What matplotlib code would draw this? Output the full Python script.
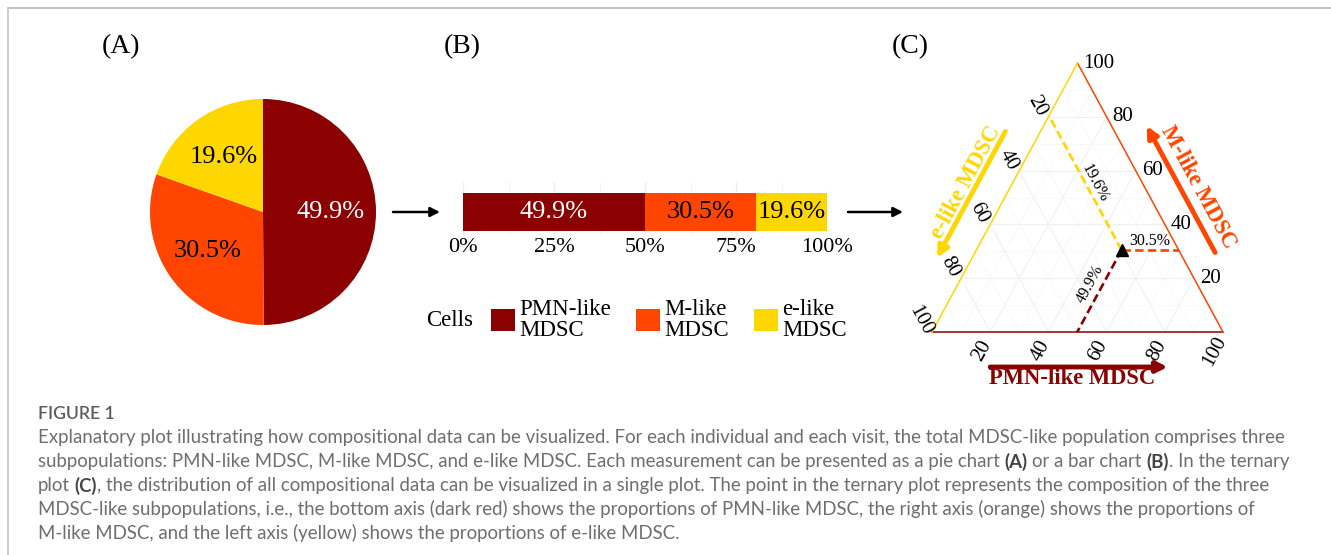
import numpy as np
import matplotlib
matplotlib.use("Agg")
import matplotlib.pyplot as plt
from matplotlib.transforms import offset_copy

# Composition of the MDSC-like population (percent)
cell_labels = ["PMN-like\nMDSC", "M-like\nMDSC", "e-like\nMDSC"]
axis_titles = ["PMN-like MDSC", "M-like MDSC", "e-like MDSC"]
shares = [49.9, 30.5, 19.6]
colors = ["#8B0000", "#FF4500", "#FFD700"]
text_colors = ["white", "black", "black"]
bar_ticks = [0, 25, 50, 75, 100]
tern_ticks = [20, 40, 60, 80, 100]

caption_title = "FIGURE 1"
caption_lines = [
    "Explanatory plot illustrating how compositional data can be visualized. For each individual and each visit, the total MDSC-like population comprises three",
    "subpopulations: PMN-like MDSC, M-like MDSC, and e-like MDSC. Each measurement can be presented as a pie chart **(A)** or a bar chart **(B)**. In the ternary",
    "plot **(C)**, the distribution of all compositional data can be visualized in a single plot. The point in the ternary plot represents the composition of the three",
    "MDSC-like subpopulations, i.e., the bottom axis (dark red) shows the proportions of PMN-like MDSC, the right axis (orange) shows the proportions of",
    "M-like MDSC, and the left axis (yellow) shows the proportions of e-like MDSC.",
]

W, H = 1331, 555
plt.rcParams["font.family"] = ["Liberation Serif", "DejaVu Serif"]
fig = plt.figure(figsize=(W / 100, H / 100), dpi=100)


def box(x0, y0, x1, y1):
    # pixel box measured from the top-left corner -> figure fraction rect
    return [x0 / W, 1 - y1 / H, (x1 - x0) / W, (y1 - y0) / H]


# background layer in pixel units for frame, panel letters and caption
bg = fig.add_axes([0, 0, 1, 1], zorder=-1)
bg.set_xlim(0, W)
bg.set_ylim(H, 0)
bg.axis("off")
bg.plot([8, W], [8, 8], color="#b7b7c4", lw=1.2)
bg.plot([8, 8], [8, H], color="#c4c4cc", lw=1.2)

for lab, x in zip(["(A)", "(B)", "(C)"], [121, 462, 910]):
    bg.text(x, 47, lab, fontsize=20, ha="center", va="center")

arrow_kw = dict(arrowstyle="-|>", color="black", lw=1.8, mutation_scale=14,
                shrinkA=0, shrinkB=0)
bg.annotate("", xy=(440, 212), xytext=(393, 212), arrowprops=arrow_kw)
bg.annotate("", xy=(903, 212), xytext=(848, 212), arrowprops=arrow_kw)

# ---- (A) pie chart
ax_pie = fig.add_axes(box(150, 99, 376, 325))
wedges, _, pcts = ax_pie.pie(shares, colors=colors, startangle=90, counterclock=False,
                             autopct="%.1f%%", pctdistance=0.6, radius=1,
                             wedgeprops=dict(linewidth=0), textprops=dict(fontsize=19))
for t, c in zip(pcts, text_colors):
    t.set_color(c)
ax_pie.set_xlim(-1, 1)
ax_pie.set_ylim(-1, 1)
ax_pie.set_aspect("equal")

# ---- (B) stacked bar
ax_bar = fig.add_axes(box(463, 182, 827, 236))
lefts = np.concatenate([[0], np.cumsum(shares)[:-1]])
containers = []
for share, left, c, tc in zip(shares, lefts, colors, text_colors):
    bars = ax_bar.barh(0, share, left=left, height=0.7, color=c, linewidth=0)
    ax_bar.bar_label(bars, labels=[f"{share:.1f}%"], label_type="center",
                     color=tc, fontsize=19)
    containers.append(bars)
ax_bar.set_xlim(0, 100)
ax_bar.set_ylim(-0.442, 0.553)
ax_bar.set_xticks(bar_ticks)
ax_bar.set_xticklabels([f"{t}%" for t in bar_ticks])
ax_bar.set_xticks(np.arange(12.5, 100, 25), minor=True)
ax_bar.set_yticks([])
ax_bar.grid(axis="x", which="major", color="#ececec", lw=0.9)
ax_bar.grid(axis="x", which="minor", color="#f3f3f3", lw=0.7)
ax_bar.set_axisbelow(True)
ax_bar.tick_params(axis="x", which="both", length=0, pad=1.5, labelsize=16)
for s in ax_bar.spines.values():
    s.set_visible(False)

leg = fig.legend(containers, cell_labels, loc="center left",
                 bbox_to_anchor=(491 / W, 1 - 320 / H), ncol=3, frameon=False,
                 fontsize=16.5, handlelength=1.05, handleheight=1.13,
                 handletextpad=0.18, columnspacing=1.1, borderpad=0, borderaxespad=0)
for t in leg.get_texts():
    t.set_linespacing(0.95)
bg.text(450, 320, "Cells", fontsize=16.5, ha="center", va="center")

# ---- (C) ternary plot: x = PMN + M/2, y = M
ax_t = fig.add_axes(box(932, 63, 1223, 332))
ax_t.set_xlim(0, 100)
ax_t.set_ylim(0, 100)
ax_t.axis("off")


def tern(pmn, m, e):
    return pmn + m / 2, m


bbox_px = ax_t.get_window_extent()
edge_ang = np.degrees(np.arctan2(bbox_px.height, bbox_px.width / 2))

for v in range(10, 100, 10):
    gc, glw = ("#f0f0f0", 0.8) if v % 20 == 0 else ("#f7f7f7", 0.6)
    for a, b in [((v, 0, 100 - v), (v, 100 - v, 0)),
                 ((0, v, 100 - v), (100 - v, v, 0)),
                 ((100 - v, 0, v), (0, 100 - v, v))]:
        p, q = tern(*a), tern(*b)
        ax_t.plot([p[0], q[0]], [p[1], q[1]], color=gc, lw=glw, zorder=1)

corners = {"e": tern(0, 0, 100), "pmn": tern(100, 0, 0), "m": tern(0, 100, 0)}
for (a, b), c in zip([("e", "pmn"), ("pmn", "m"), ("m", "e")], colors):
    ax_t.plot([corners[a][0], corners[b][0]], [corners[a][1], corners[b][1]],
              color=c, lw=1.1, zorder=2, clip_on=False)

pmn, m, e = shares
pt = tern(pmn, m, e)
guide_ends = [tern(pmn, 0, 100 - pmn), tern(100 - m, m, 0), tern(0, 100 - e, e)]
label_shift = [(-9, 7), (0, 9), (10, 0)]
label_rot = [edge_ang, 0, -edge_ang]
for end, c, val, sh, rot in zip(guide_ends, colors, shares, label_shift, label_rot):
    ax_t.plot([pt[0], end[0]], [pt[1], end[1]], color=c, lw=1.9,
              dashes=(3.2, 1.6), zorder=3, clip_on=False)
    mid = ((pt[0] + end[0]) / 2, (pt[1] + end[1]) / 2)
    ax_t.annotate(f"{val:.1f}%", xy=mid, xytext=sh, textcoords="offset pixels",
                  rotation=rot, ha="center", va="center", fontsize=11.5)
ax_t.plot(pt[0], pt[1], marker="^", color="black", ms=9, zorder=4, clip_on=False)

for t in tern_ticks:
    ax_t.annotate(str(t), xy=tern(100 - t, t, 0), xytext=(6, 0),
                  textcoords="offset pixels", ha="left", va="center", fontsize=15)
    ax_t.annotate(str(t), xy=tern(0, 100 - t, t), xytext=(-11, 11),
                  textcoords="offset pixels", ha="center", va="center",
                  rotation=-edge_ang, fontsize=15)
    ax_t.annotate(str(t), xy=tern(t, 0, 100 - t), xytext=(-8, -19),
                  textcoords="offset pixels", ha="center", va="center",
                  rotation=edge_ang, fontsize=15)


def shifted(dx, dy):
    return offset_copy(ax_t.transData, fig=fig, x=dx, y=dy, units="dots")


def axis_arrow(p0, p1, c, dx, dy):
    ax_t.annotate("", xy=p1, xytext=p0, xycoords=shifted(dx, dy),
                  textcoords=shifted(dx, dy),
                  arrowprops=dict(arrowstyle="-|>", color=c, lw=3.5,
                                  mutation_scale=16, shrinkA=0, shrinkB=0))


# PMN along the bottom, M up the right edge, e down the left edge
axis_arrow(tern(20, 0, 80), tern(81, 0, 19), colors[0], 0, -35)
axis_arrow(tern(76, 24, 0), tern(29, 71, 0), colors[1], 27, 15)
axis_arrow(tern(0, 69, 31), tern(0, 22, 78), colors[2], -27, 15)

ax_t.text(*tern(48, 0, 52), axis_titles[0], transform=shifted(0, -47), color=colors[0],
          fontsize=16.3, fontweight="bold", ha="center", va="center")
ax_t.text(*tern(54.5, 45.5, 0), axis_titles[1], transform=shifted(41, 22), color=colors[1],
          fontsize=16.3, fontweight="bold", ha="center", va="center", rotation=-edge_ang)
ax_t.text(*tern(0, 48.2, 51.8), axis_titles[2], transform=shifted(-36, 19.5), color=colors[2],
          fontsize=16.3, fontweight="bold", ha="center", va="center", rotation=edge_ang)

# ---- caption, fitted to the page width
renderer = fig.canvas.get_renderer()
cap_font = "Lato"
cap_color = "#6e6e6e"
probe = bg.text(0, 0, caption_lines[0], fontsize=12, family=cap_font)
cap_size = 12 * 1241 / probe.get_window_extent(renderer).width
probe.remove()


def text_width(s, bold):
    t = bg.text(0, 0, s, fontsize=cap_size, family=cap_font,
                fontweight="bold" if bold else "normal")
    w = t.get_window_extent(renderer).width
    t.remove()
    return w


space_w = text_width("x x", False) - text_width("xx", False)

bg.text(38, 414, caption_title, fontsize=cap_size * 0.95, family=cap_font,
        fontweight="semibold", color="#5c5c5c", ha="left", va="center")
for i, line in enumerate(caption_lines):
    y = 438 + i * 23.8
    x = 38
    for j, seg in enumerate(line.split("**")):
        bold = j % 2 == 1
        lead = len(seg) - len(seg.lstrip(" "))
        trail = len(seg) - len(seg.rstrip(" "))
        core = seg.strip(" ")
        x += lead * space_w
        if core:
            bg.text(x, y, core, fontsize=cap_size, family=cap_font,
                    color="#444444" if bold else cap_color,
                    fontweight="bold" if bold else "normal", ha="left", va="center")
            x += text_width(core, bold)
        x += trail * space_w

fig.savefig("out.png", dpi=100)
